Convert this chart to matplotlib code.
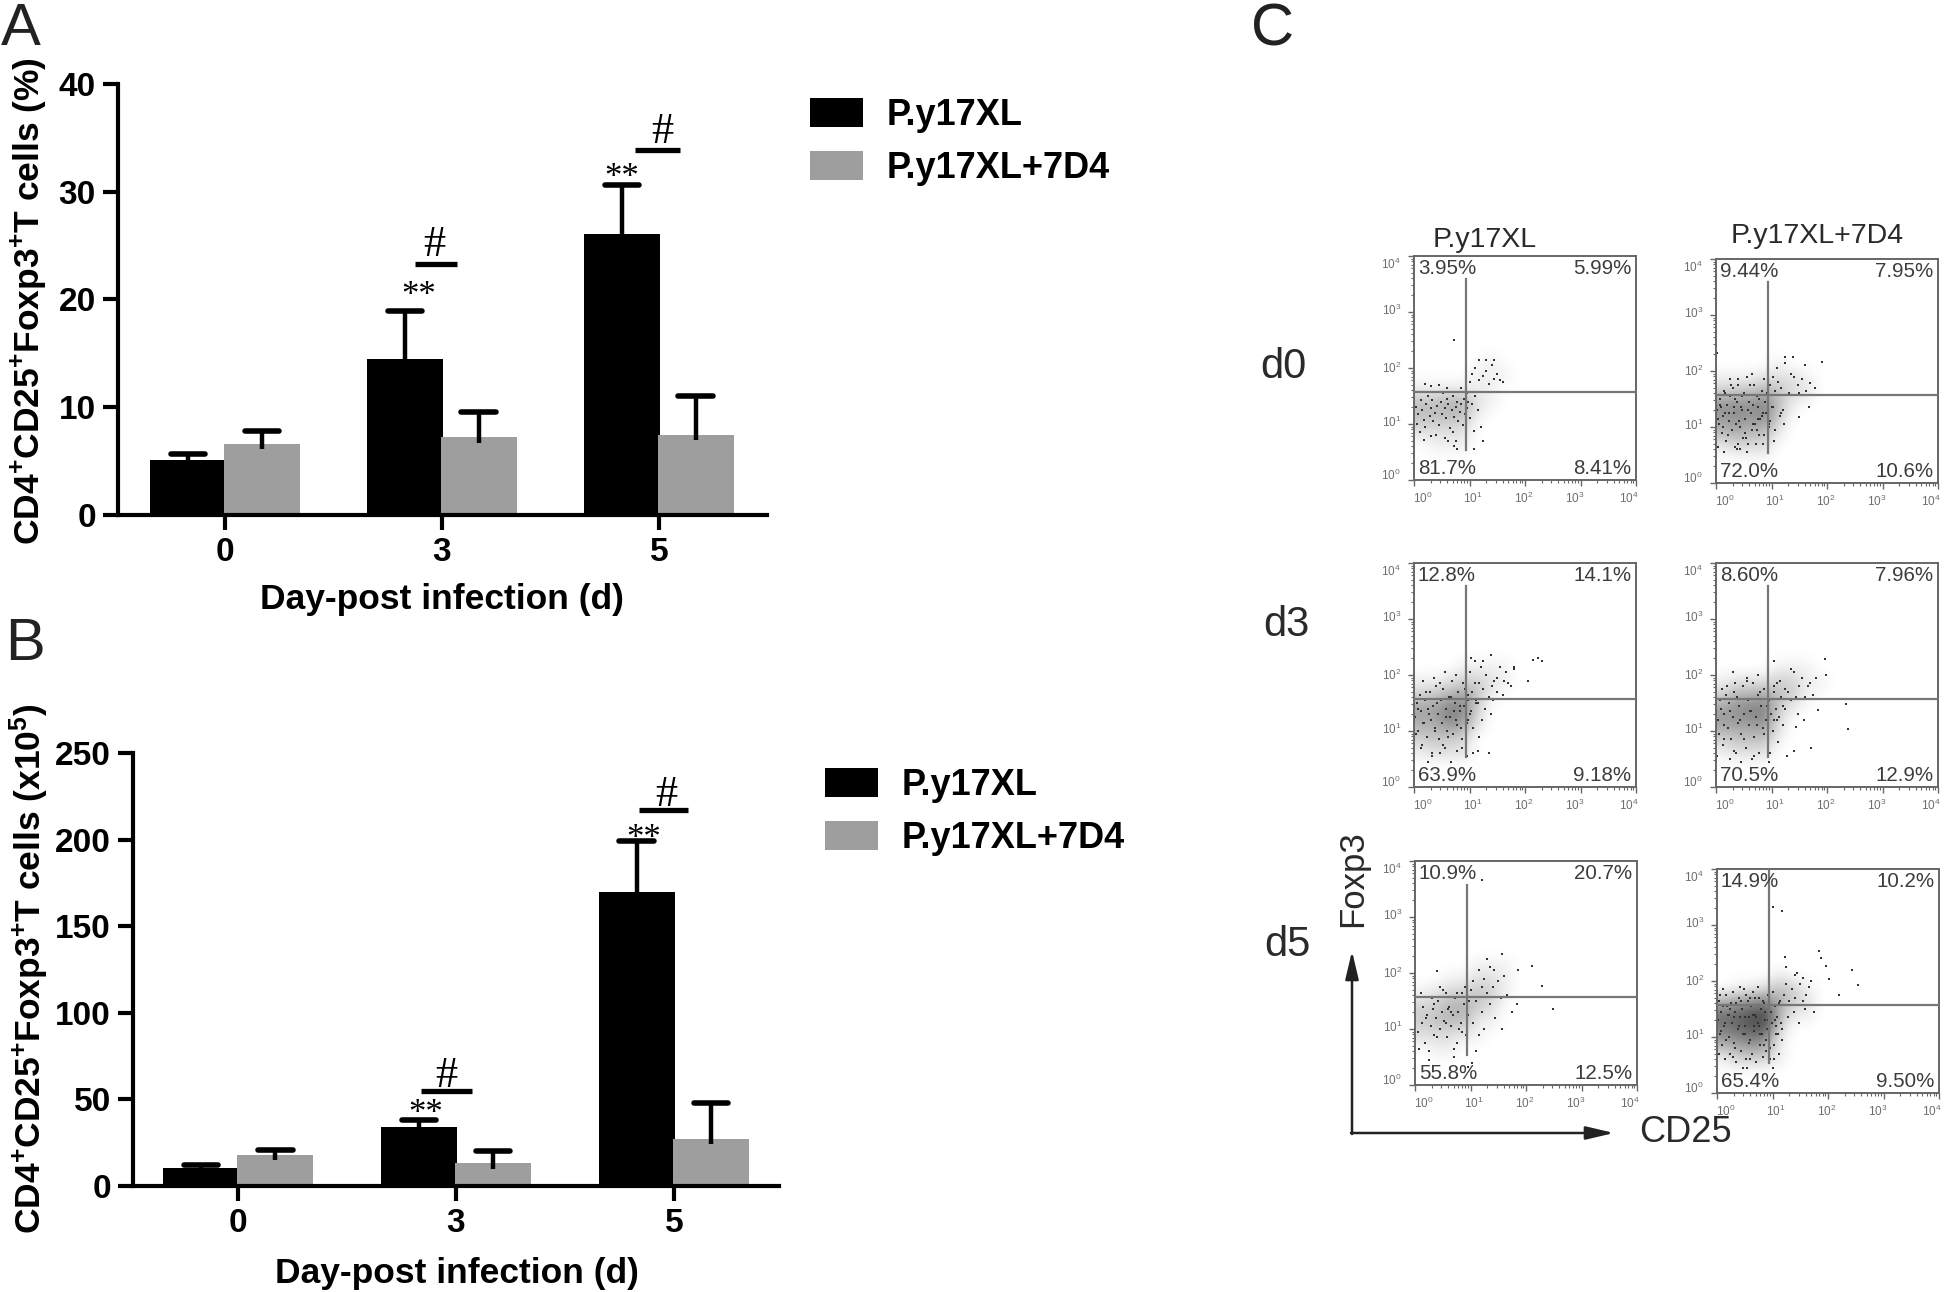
import matplotlib
matplotlib.use("Agg")
import matplotlib.pyplot as plt
import numpy as np

plt.rcParams['font.family'] = ['Liberation Sans', 'DejaVu Sans']
plt.rcParams['mathtext.fontset'] = 'custom'
plt.rcParams['mathtext.rm'] = 'Liberation Sans'
plt.rcParams['mathtext.bf'] = 'Liberation Sans:bold'
plt.rcParams['mathtext.default'] = 'regular'

W, H = 1946, 1292

# Bar chart values
days = ['0', '3', '5']
pct_black = [5.1, 14.5, 26.1]
pct_black_top = [5.7, 18.9, 30.6]
pct_grey = [6.6, 7.2, 7.4]
pct_grey_top = [7.8, 9.6, 11.0]
num_black = [10.5, 34, 170]
num_black_top = [12, 38, 199]
num_grey = [18, 13, 27]
num_grey_top = [21, 20, 48]

# Flow plots: hundredths of a decade
d0_xl_x = [3,8,12,5,15,18,22,25,28,10,20,30,33,35,38,42,45,48,50,52,55,58,60,62,65,68,70,72,75,78,80,82,85,88,90,92,95,98,40,55,70,72,75,78,30,18,100,105,110,115,120,125,108,95,85,60,45,30,20,72,100,105,110,118,125,130,135,140,145,150,155,160,130,145,118,108,62]
d0_xl_y = [130,118,142,100,125,108,135,150,115,85,95,128,142,105,120,132,98,140,118,155,128,110,145,135,92,125,150,112,130,140,105,122,135,98,145,118,128,140,80,75,85,60,70,55,78,72,110,135,150,125,95,70,88,155,165,165,170,168,172,250,175,190,200,215,185,195,172,205,180,190,178,175,215,215,178,55,70]

d0_7d4_x = [2,5,8,10,13,15,18,20,23,25,28,30,33,35,38,40,43,45,48,50,53,55,58,60,63,65,68,70,73,75,78,80,83,85,88,90,93,95,98,100,3,7,12,17,22,27,32,37,42,47,52,57,62,67,72,77,82,87,92,97,102,107,112,117,122,4,9,14,24,34,44,54,64,74,84,94,104,16,26,36,46,56,66,76,86,96,106,116,40,102,110,118,125,132,140,148,155,162,170,178,125,135,150,120,40,2,139,161,191,150,168]
d0_7d4_y = [130,105,150,90,120,165,75,140,110,155,95,170,125,65,145,185,100,135,80,160,115,190,70,145,125,95,175,105,155,135,85,115,165,70,145,125,60,105,175,135,115,140,100,125,85,175,135,60,110,155,90,130,175,105,70,150,120,85,160,110,135,95,180,125,105,65,135,55,125,150,60,80,195,95,125,165,75,160,185,105,130,55,140,115,185,100,165,120,70,190,205,170,215,160,190,175,185,165,178,170,225,195,160,130,175,232,225,211,216,118,135]

d3_xl_x = [2,5,8,10,13,15,18,20,23,25,28,30,33,35,38,40,43,45,48,50,53,55,58,60,63,65,68,70,73,75,78,80,83,85,88,90,93,95,98,100,3,7,12,17,22,27,32,37,42,47,52,57,62,67,72,77,82,87,92,97,102,107,112,117,122,16,26,36,46,56,66,76,86,96,106,100,105,110,115,120,125,130,135,140,145,150,155,160,165,170,110,125,138,150,98,112,128,142,118,102,163,175,138,214,223,230,181,181,205,115,135]
d3_xl_y = [125,150,100,165,135,75,115,155,90,140,170,120,60,145,105,180,130,85,155,115,175,70,140,100,160,125,190,95,150,120,65,170,135,105,185,145,80,115,155,130,95,140,70,115,170,130,55,100,150,185,75,125,90,160,135,110,145,70,175,120,135,105,155,90,120,190,45,195,60,205,45,200,85,55,60,205,170,185,150,215,175,200,160,180,190,170,215,165,205,185,225,225,235,195,165,150,140,155,185,230,190,180,130,227,230,225,210,215,190,65,60]

d3_7d4_x = [3,6,9,12,15,18,21,24,27,30,33,36,39,42,45,48,51,54,57,60,63,66,69,72,75,78,81,84,87,90,93,96,99,102,105,108,111,114,117,120,2,8,14,20,26,32,38,44,50,56,62,68,74,80,86,92,98,104,110,25,35,45,55,65,75,85,95,105,15,10,115,125,135,145,155,165,175,110,120,130,140,150,160,170,125,135,148,158,180,105,196,199,235,238,145,172,31,184,128,140]
d3_7d4_y = [120,95,140,75,130,165,105,150,85,125,170,60,115,145,95,180,130,70,155,110,135,185,90,125,165,60,145,105,175,120,75,155,130,100,180,140,80,125,160,110,55,155,110,180,135,65,160,120,85,190,135,55,110,170,95,145,60,120,185,50,185,45,195,50,200,105,45,170,85,175,190,175,210,160,195,180,165,120,145,170,205,180,160,185,140,155,130,120,195,225,228,200,149,103,108,70,205,138,55,65]

d5_xl_x = [5,8,12,15,18,22,25,28,32,35,38,42,45,48,52,55,58,62,65,68,72,75,78,82,85,88,92,95,98,10,20,30,40,50,60,70,80,90,25,35,45,55,65,75,85,100,105,110,115,120,125,130,135,140,145,150,155,160,165,175,185,105,115,125,135,110,120,130,142,157,157,183,211,229,249,120,39,95,102,70]
d5_xl_y = [95,65,110,140,75,125,60,105,135,90,120,150,100,130,115,165,85,140,105,125,155,75,130,110,165,145,90,125,150,165,120,155,85,170,135,65,100,175,45,145,175,110,130,165,95,170,185,150,205,130,190,165,210,175,120,185,155,195,160,130,205,110,90,100,145,60,175,225,205,100,234,145,213,177,135,366,204,32,40,50]

d5_7d4_x = [1,3,5,7,9,11,13,15,17,19,21,23,25,27,29,31,33,35,37,39,41,43,45,47,49,51,53,55,57,59,61,63,65,67,69,71,73,75,77,79,81,83,85,87,89,91,93,95,97,99,101,103,105,107,109,111,113,115,4,10,16,22,28,34,40,46,52,58,64,70,76,82,88,94,100,106,112,118,6,14,24,32,42,50,60,68,78,86,96,104,8,18,30,44,54,66,74,84,92,102,110,70,80,90,60,50,120,125,130,135,140,145,150,155,160,165,128,138,148,158,118,125,140,155,170,175,100,117,184,187,196,202,244,254,219,122]
d5_7d4_y = [130,165,105,145,85,155,120,60,175,140,100,70,160,125,180,90,145,55,115,170,135,75,150,105,185,120,60,165,135,95,155,70,180,110,140,55,125,170,85,150,105,65,160,130,95,175,115,60,145,125,180,85,155,105,135,70,165,125,70,185,95,140,65,160,120,45,175,90,140,55,120,165,75,150,45,120,160,95,175,125,150,80,190,135,60,170,105,145,80,130,110,155,135,165,45,120,190,85,130,60,105,135,150,115,170,105,175,195,165,185,170,215,195,205,175,190,135,145,125,150,115,225,210,165,200,145,333,325,253,241,226,204,219,192,175,243]

# How dark each cloud looks, by eye, in quarter-decade cells (top row is 10^2.25-10^2.5)
d0_xl_density = [[0,0,0,0,0,0,0,0,0],
                 [0,0,0,0,0,1,0,0,0],
                 [0,0,0,0,1,1,1,0,0],
                 [1,1,1,1,1,1,0,0,0],
                 [4,4,5,5,2,1,0,0,0],
                 [4,4,4,4,1,0,0,0,0],
                 [2,2,2,2,0,0,0,0,0],
                 [0,1,1,1,0,0,0,0,0],
                 [0,0,0,0,0,0,0,0,0]]
d0_7d4_density = [[0,0,0,0,0,0,0,0,0],
                  [0,0,0,0,1,0,0,0,0],
                  [1,1,1,2,2,2,1,0,0],
                  [3,4,4,5,4,2,2,0,0],
                  [7,7,7,8,4,1,0,0,0],
                  [6,7,6,7,3,0,0,0,0],
                  [4,5,4,4,1,0,0,0,0],
                  [1,2,2,2,0,0,0,0,0],
                  [0,0,0,0,0,0,0,0,0]]
d3_xl_density = [[0,0,0,0,0,0,0,0,0],
                 [0,0,0,1,1,1,1,0,0],
                 [1,1,2,3,3,2,1,0,0],
                 [3,4,5,6,4,1,0,0,0],
                 [6,6,8,8,3,0,0,0,0],
                 [5,5,7,6,2,0,0,0,0],
                 [3,4,3,3,0,0,0,0,0],
                 [1,2,2,2,0,0,0,0,0],
                 [0,0,0,0,0,0,0,0,0]]
d3_7d4_density = [[0,0,0,0,0,0,0,0,0],
                  [0,0,0,0,1,1,1,0,0],
                  [1,2,2,2,3,3,1,1,0],
                  [3,5,5,6,4,3,1,0,0],
                  [6,7,8,8,3,1,0,0,0],
                  [6,6,6,7,2,0,0,0,0],
                  [3,4,4,4,1,0,0,0,0],
                  [1,2,2,2,0,0,0,0,0],
                  [0,0,0,0,0,0,0,0,0]]
d5_xl_density = [[0,0,0,0,0,0,0,0,0],
                 [0,0,0,0,1,1,1,0,0],
                 [0,0,1,1,2,2,1,0,0],
                 [1,2,3,3,4,3,1,0,0],
                 [3,3,5,5,3,2,0,0,0],
                 [3,4,4,4,1,1,0,0,0],
                 [2,2,2,1,1,0,0,0,0],
                 [0,1,1,0,0,0,0,0,0],
                 [0,0,0,0,0,0,0,0,0]]
d5_7d4_density = [[0,0,0,0,0,0,0,0,0],
                  [0,0,0,0,1,0,0,0,0],
                  [0,1,1,2,4,3,1,0,0],
                  [5,6,7,8,5,3,2,0,0],
                  [9,10,11,12,5,1,1,0,0],
                  [8,9,10,10,2,0,0,0,0],
                  [5,6,7,6,1,0,0,0,0],
                  [1,3,3,3,1,0,0,0,0],
                  [0,0,0,0,0,0,0,0,0]]

flow_panels = [
    (1414, 256, d0_xl_x, d0_xl_y, d0_xl_density, ['3.95%', '5.99%', '81.7%', '8.41%'], 0.54, 3.59),
    (1716, 259, d0_7d4_x, d0_7d4_y, d0_7d4_density, ['9.44%', '7.95%', '72.0%', '10.6%'], 0.54, 3.59),
    (1414, 563, d3_xl_x, d3_xl_y, d3_xl_density, ['12.8%', '14.1%', '63.9%', '9.18%'], 0.54, 3.59),
    (1716, 563, d3_7d4_x, d3_7d4_y, d3_7d4_density, ['8.60%', '7.96%', '70.5%', '12.9%'], 0.54, 3.59),
    (1415, 861, d5_xl_x, d5_xl_y, d5_xl_density, ['10.9%', '20.7%', '55.8%', '12.5%'], 0.54, 3.58),
    (1717, 869, d5_7d4_x, d5_7d4_y, d5_7d4_density, ['14.9%', '10.2%', '65.4%', '9.50%'], 0.54, 4.0),
]
decade_labels = ['$10^{0}$', '$10^{1}$', '$10^{2}$', '$10^{3}$', '$10^{4}$']

fig = plt.figure(figsize=(W / 100, H / 100), dpi=100, facecolor='white')


def px_axes(left, top, right, bottom):
    return fig.add_axes([left / W, 1 - bottom / H, (right - left) / W, (bottom - top) / H])


def px_text(x, y, s, **kw):
    kw.setdefault('ha', 'center')
    kw.setdefault('va', 'center')
    return fig.text(x / W, 1 - y / H, s, **kw)


def bar_panel(ax, black, black_top, grey, grey_top, ymax, step, xlim, sig):
    pos = np.arange(len(days))
    for xs, vals, tops, col, label in [(pos - 0.17, black, black_top, 'black', 'P.y17XL'),
                                       (pos + 0.17, grey, grey_top, '#9e9e9e', 'P.y17XL+7D4')]:
        ax.bar(xs, vals, width=0.35, color=col, label=label, zorder=2)
        # upper whisker only, with the rounded cap of the original
        ax.vlines(xs, np.array(vals) - 0.012 * ymax, tops, color='black', lw=3.2, zorder=3)
        ax.hlines(tops, xs - 0.08, xs + 0.08, color='black', lw=4, capstyle='round', zorder=3)
    ax.set_xlim(*xlim)
    ax.set_ylim(0, ymax)
    ax.set_xticks(pos, days)
    ax.set_yticks(np.arange(0, ymax + 1, step))
    ax.tick_params(length=11, width=3, labelsize=24, pad=5)
    ax.tick_params(axis='x', pad=5)
    for lab in ax.get_xticklabels() + ax.get_yticklabels():
        lab.set_fontweight('bold')
    for side in ['top', 'right']:
        ax.spines[side].set_visible(False)
    for side in ['left', 'bottom']:
        ax.spines[side].set_linewidth(3)
    for (g, x0, x1, ybar, xhash, yhash, xstar, ystar) in sig:
        ax.plot([g + x0, g + x1], [ybar, ybar], color='black', lw=3.8, solid_capstyle='butt', clip_on=False)
        ax.text(g + xhash, yhash, '#', family='Liberation Serif', fontsize=32, ha='center', va='center')
        ax.text(g + xstar, ystar, '**', family='Liberation Serif', fontsize=25, ha='center', va='center')


# Panel A
ax_a = px_axes(118, 84, 767, 515)
bar_panel(ax_a, pct_black, pct_black_top, pct_grey, pct_grey_top, 40, 10, (-0.493, 2.498),
          [(1, -0.126, 0.069, 23.3, -0.034, 25.1, -0.109, 20.3),
           (2, -0.109, 0.097, 33.9, 0.017, 35.5, -0.171, 31.2)])
# Panel B
ax_b = px_axes(133, 753, 779, 1186)
bar_panel(ax_b, num_black, num_black_top, num_grey, num_grey_top, 250, 50, (-0.482, 2.482),
          [(1, -0.16, 0.074, 55, -0.046, 63.7, -0.137, 41),
           (2, -0.16, 0.063, 217, -0.034, 226, -0.137, 200)])

for ax, anchor in [(ax_a, (810, 98)), (ax_b, (825, 768))]:
    ax.legend(loc='upper left', bbox_to_anchor=(anchor[0] / W, 1 - anchor[1] / H), bbox_transform=fig.transFigure,
              frameon=False, borderpad=0, borderaxespad=0, handlelength=1.46, handleheight=0.83,
              handletextpad=0.66, labelspacing=0.5, prop={'family': 'Liberation Sans', 'weight': 'bold', 'size': 26})

px_text(29, 301, r'CD4$\mathbf{^{+}}$CD25$\mathbf{^{+}}$Foxp3$\mathbf{^{+}}$T cells (%)', rotation=90,
        fontsize=25.5, fontweight='bold')
px_text(29, 969, r'CD4$\mathbf{^{+}}$CD25$\mathbf{^{+}}$Foxp3$\mathbf{^{+}}$T cells (x10$\mathbf{^{5}}$)', rotation=90,
        fontsize=25.5, fontweight='bold')
px_text(442, 600, 'Day-post infection (d)', fontsize=25.5, fontweight='bold')
px_text(457, 1274, 'Day-post infection (d)', fontsize=25.5, fontweight='bold')

px_text(1, 45, 'A', fontsize=43, ha='left', va='baseline', color='#222222')
px_text(5, 660, 'B', fontsize=43, ha='left', va='baseline', color='#222222')
px_text(1251, 46, 'C', fontsize=43, ha='left', va='baseline', color='#222222')

# Panel C, flow plots
grey_ink = '#666666'
minor = np.concatenate([d + np.log10(np.arange(2, 10)) for d in range(4)])
for (left, top, xs, ys, density, pcts, vlo, vhi) in flow_panels:
    ax = px_axes(left, top, left + 222, top + 224)
    ax.imshow(density, extent=(0, 2.25, 0.25, 2.5), cmap='gray_r', vmin=0, vmax=16,
              interpolation='bicubic', aspect='auto', zorder=1)
    ax.scatter(np.array(xs) / 100, np.array(ys) / 100, s=1.8, marker='s', color='#333333', linewidths=0, zorder=2)
    ax.axhline(1.57, color='#777777', lw=1.6, zorder=3)
    ax.plot([0.93, 0.93], [vlo, vhi], color='#777777', lw=1.6, zorder=3)
    ax.set_xlim(0, 4)
    ax.set_ylim(0, 4)
    ax.set_xticks(range(5), [''] * 5)
    ax.set_yticks(range(5), [''] * 5)
    ax.set_xticks(minor, minor=True)
    ax.set_yticks(minor, minor=True)
    ax.tick_params(which='major', length=4.5, width=1, color=grey_ink)
    ax.tick_params(which='minor', length=2.2, width=0.8, color=grey_ink)
    for sp in ax.spines.values():
        sp.set_color('#666666')
        sp.set_linewidth(1.4)
    for lab, xp, yp in zip(decade_labels, [0.16, 1.06, 1.98, 2.9, 3.87], [0.09, 1.02, 2.0, 3.02, 3.85]):
        ax.text(xp, -0.33, lab, fontsize=8.5, color='#6e6e6e', ha='center', va='center', clip_on=False)
        ax.text(-0.41, yp, lab, fontsize=8.5, color='#6e6e6e', ha='center', va='center', clip_on=False)
    pct_kw = dict(fontsize=14.8, color='#3c3c3c', va='center', zorder=4)
    ax.text(0.07, 3.78, pcts[0], ha='left', **pct_kw)
    ax.text(3.92, 3.78, pcts[1], ha='right', **pct_kw)
    ax.text(0.07, 0.2, pcts[2], ha='left', **pct_kw)
    ax.text(3.92, 0.2, pcts[3], ha='right', **pct_kw)

px_text(1485, 240, 'P.y17XL', fontsize=20.5, color='#2a2a2a')
px_text(1817, 236, 'P.y17XL+7D4', fontsize=20.5, color='#2a2a2a')
for lab, x, y in [('d0', 1283, 367), ('d3', 1286, 625), ('d5', 1287, 945)]:
    px_text(x, y, lab, fontsize=30, color='#2a2a2a')
px_text(1353, 879, 'Foxp3', fontsize=25, rotation=90, color='#2a2a2a')
px_text(1685, 1132, 'CD25', fontsize=26, color='#2a2a2a')

# Foxp3 / CD25 axis arrows
overlay = fig.add_axes([0, 0, 1, 1], facecolor='none')
overlay.set_xlim(0, W)
overlay.set_ylim(H, 0)
overlay.axis('off')
overlay.annotate('', xy=(1352, 951), xytext=(1352, 1134),
                 arrowprops=dict(arrowstyle='-|>,head_width=0.4,head_length=1.7', color='#222222', lw=1.8, shrinkA=0, shrinkB=0))
overlay.annotate('', xy=(1614, 1133), xytext=(1351, 1133),
                 arrowprops=dict(arrowstyle='-|>,head_width=0.4,head_length=1.7', color='#222222', lw=1.8, shrinkA=0, shrinkB=0))

fig.savefig('out.png', dpi=100)
